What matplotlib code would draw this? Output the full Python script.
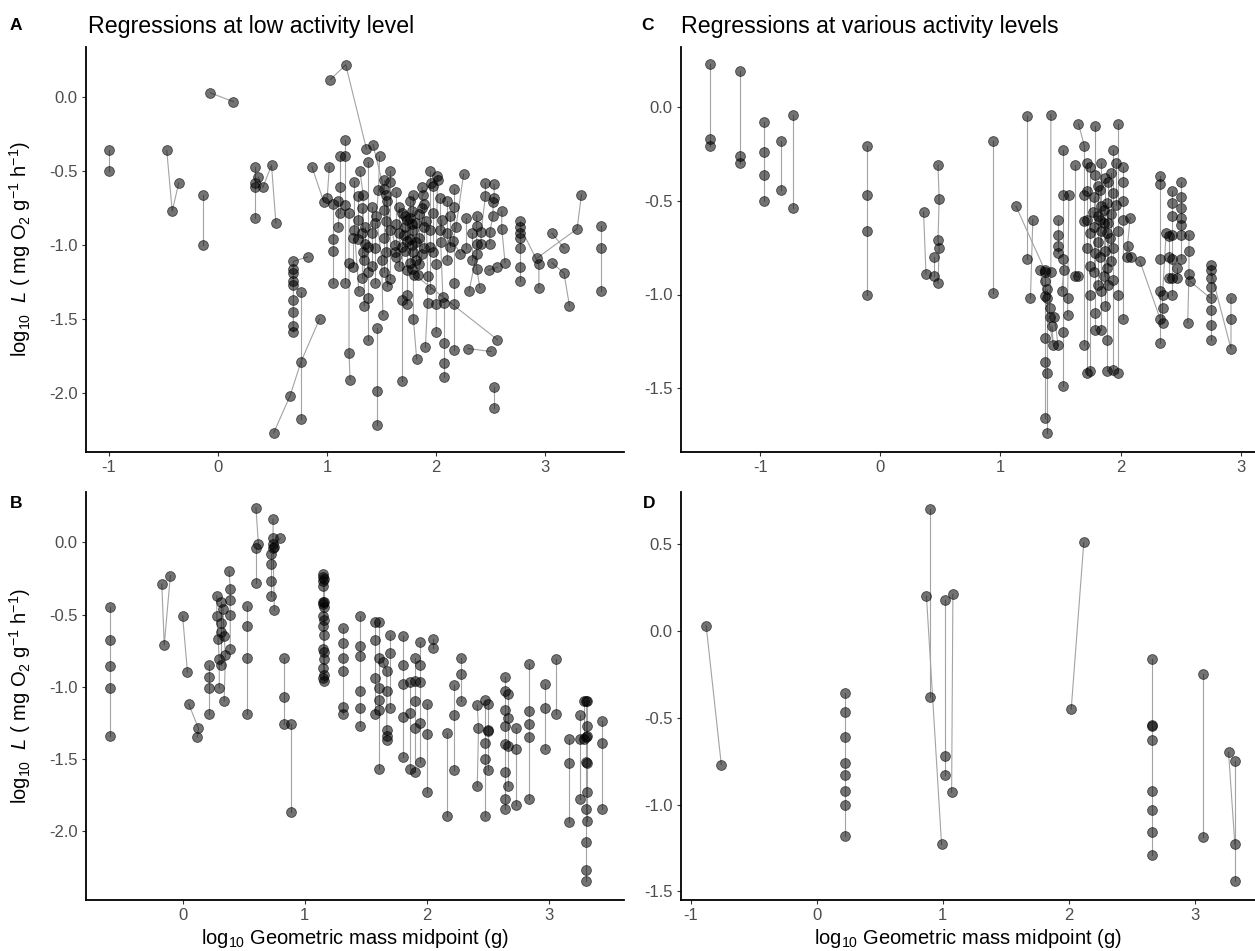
import numpy as np
import matplotlib.pyplot as plt

plt.rcParams['font.family'] = ['Liberation Sans', 'DejaVu Sans']
plt.rcParams['mathtext.fontset'] = 'custom'
plt.rcParams['mathtext.rm'] = 'Liberation Sans'
plt.rcParams['mathtext.it'] = 'Liberation Sans:italic'
plt.rcParams['axes.unicode_minus'] = False

# panel A: regressions at low activity level (one list per regression)
low_mass = [
    [-1.0, -1.0], [-0.47, -0.42, -0.36], [-0.07, 0.14], [-0.14, -0.14],
    [0.34, 0.34, 0.34, 0.34], [0.37, 0.41, 0.49, 0.53],
    [0.82, 0.69, 0.69, 0.69, 0.69, 0.69, 0.69, 0.69, 0.69, 0.69],
    [0.76, 0.76], [0.51, 0.66, 0.76, 0.93], [1.03, 1.17, 1.36], [0.86, 0.97],
    [1.05, 1.05, 1.05, 1.05], [1.00, 1.02], [1.16, 1.16, 1.16, 1.16],
    [1.12, 1.12, 1.12], [1.20, 1.20, 1.20, 1.21], [1.25, 1.25, 1.29],
    [1.30, 1.33, 1.33], [1.37, 1.37, 1.37, 1.37, 1.37], [1.35, 1.35, 1.34, 1.34],
    [1.42, 1.52, 1.62], [1.46, 1.46, 1.46], [1.48, 1.47, 1.45, 1.50, 1.51],
    [1.58, 1.58, 1.58, 1.58], [1.55, 1.55], [1.69, 1.69, 1.69, 1.69],
    [1.73, 1.73, 1.73, 1.73, 1.73], [1.79, 1.79, 1.79, 1.79, 1.82],
    [1.87, 1.87, 1.87, 1.83], [1.94, 1.94, 1.94, 1.94], [1.91, 1.92, 1.92, 1.90],
    [2.01, 2.00, 2.00, 2.00], [2.05, 2.04, 2.06], [2.07, 2.07, 2.07, 2.07],
    [2.16, 2.16, 2.16, 2.16, 2.16], [2.25, 2.18, 2.15, 2.22], [2.29, 2.50],
    [2.30, 2.37, 2.37], [2.45, 2.45, 2.41, 2.41],
    [2.53, 2.53, 2.52, 2.52, 2.49, 2.49], [2.60, 2.60, 2.63],
    [2.37, 2.37, 2.37, 2.40], [2.48, 2.56], [1.80, 2.56], [2.53, 2.53],
    [2.77, 2.77, 2.77, 2.77, 2.77, 2.77], [2.92, 3.29, 3.33], [2.77, 2.94, 2.94],
    [3.06, 3.17], [3.06, 3.17, 3.22], [3.51, 3.51, 3.51],
    [1.10, 1.10], [1.28, 1.28, 1.28], [1.41, 1.41, 1.41], [1.52, 1.52, 1.52, 1.52],
    [1.63, 1.63, 1.63], [1.76, 1.76, 1.76, 1.76], [1.84, 1.84, 1.84],
    [1.97, 1.97, 1.97], [2.10, 2.10, 2.10], [2.27, 2.27], [1.62, 1.70, 1.78],
    [1.88, 1.95, 2.02],
    [1.32, 1.32, 1.32], [1.44, 1.44, 1.44], [1.54, 1.54, 1.54], [1.66, 1.66, 1.66],
    [1.71, 1.71, 1.71], [1.78, 1.78, 1.78], [1.81, 1.81, 1.81], [1.89, 1.89, 1.89],
    [2.03, 2.03], [2.13, 2.13], [2.33, 2.33], [1.24, 1.24],
]
low_L = [
    [-0.36, -0.50], [-0.36, -0.77, -0.58], [0.03, -0.03], [-0.66, -1.00],
    [-0.47, -0.58, -0.61, -0.82], [-0.54, -0.61, -0.46, -0.85],
    [-1.08, -1.11, -1.16, -1.19, -1.24, -1.27, -1.37, -1.45, -1.55, -1.59],
    [-1.32, -2.18], [-2.27, -2.02, -1.79, -1.50], [0.12, 0.22, -0.35], [-0.47, -0.71],
    [-0.72, -0.96, -1.04, -1.26], [-0.68, -0.47], [-0.29, -0.40, -0.73, -1.26],
    [-0.40, -0.61, -0.78], [-0.78, -1.12, -1.73, -1.91], [-0.57, -0.90, -1.31],
    [-0.50, -0.66, -1.05], [-0.44, -1.01, -1.18, -1.36, -1.64], [-0.88, -0.99, -1.10, -1.41],
    [-0.32, -0.62, -1.00], [-1.56, -1.99, -2.22], [-0.40, -0.63, -0.80, -1.10, -1.47],
    [-0.50, -0.57, -0.90, -1.23], [-0.70, -1.28], [-0.78, -1.01, -1.37, -1.92],
    [-0.83, -0.97, -1.17, -1.34, -1.40], [-0.66, -0.90, -1.05, -1.50, -1.77],
    [-0.61, -0.75, -1.06, -1.20], [-0.50, -0.90, -1.01, -1.30], [-0.84, -1.21, -1.39, -1.69],
    [-0.53, -1.13, -1.40, -1.59], [-0.83, -0.98, -1.35], [-1.39, -1.66, -1.80, -1.89],
    [-0.62, -0.74, -1.26, -1.40, -1.71], [-0.52, -0.88, -0.97, -1.06], [-1.70, -1.72],
    [-1.31, -1.06, -0.99], [-0.58, -0.67, -0.91, -0.99],
    [-0.59, -0.68, -0.71, -0.80, -0.91, -0.99], [-0.77, -0.89, -1.12],
    [-0.80, -0.87, -1.16, -1.29], [-1.17, -1.15], [-1.20, -1.64], [-1.96, -2.10],
    [-0.84, -0.92, -0.95, -1.02, -1.15, -1.24], [-1.09, -0.89, -0.66], [-0.88, -1.13, -1.29],
    [-0.92, -1.02], [-1.12, -1.19, -1.41], [-0.87, -1.02, -1.31],
    [-0.70, -0.88], [-0.67, -0.83, -0.96], [-0.74, -0.92, -1.14], [-0.56, -0.76, -0.95, -1.18],
    [-0.64, -0.86, -1.08], [-0.70, -0.82, -0.96, -1.12], [-0.79, -0.95, -1.13],
    [-0.60, -0.78, -1.05], [-0.70, -0.92, -1.10], [-0.82, -1.02], [-1.05, -0.93, -0.86],
    [-0.66, -0.58, -0.56],
    [-0.75, -0.92, -1.22], [-0.85, -1.02, -1.26], [-0.66, -0.84, -1.05], [-0.74, -0.92, -1.14],
    [-0.80, -0.88, -1.04], [-0.77, -1.00, -1.16], [-0.85, -0.98, -1.10], [-0.72, -0.88, -1.02],
    [-0.68, -0.90], [-0.80, -1.01], [-0.92, -1.10], [-0.95, -1.15],
]

# panel B
b_mass = [
    [-0.59, -0.59, -0.59, -0.59, -0.59], [-0.17, -0.15, -0.10], [0.00, 0.04],
    [0.05, 0.13, 0.12], [0.22, 0.22, 0.22, 0.22], [0.28, 0.28, 0.29, 0.30, 0.30],
    [0.31, 0.31, 0.31, 0.31], [0.33, 0.34, 0.35, 0.34], [0.38, 0.39, 0.39, 0.39, 0.39],
    [0.53, 0.53, 0.53, 0.53], [0.60, 0.62], [0.60, 0.60],
    [0.74, 0.74, 0.74, 0.74, 0.75], [0.72, 0.72, 0.72, 0.72], [0.75, 0.80],
    [0.83, 0.83, 0.83], [0.89, 0.89],
    [1.15, 1.15, 1.15, 1.15, 1.15, 1.15, 1.15, 1.15, 1.15, 1.15, 1.15],
    [1.16, 1.16, 1.16, 1.16, 1.16, 1.16, 1.16, 1.16, 1.16],
    [1.31, 1.31, 1.31, 1.31, 1.31, 1.31], [1.45, 1.45, 1.45, 1.45, 1.45, 1.45],
    [1.57, 1.57, 1.57, 1.57], [1.61, 1.61, 1.61, 1.61, 1.61, 1.61],
    [1.64, 1.67, 1.67, 1.67, 1.67, 1.67], [1.70, 1.70, 1.70],
    [1.80, 1.80, 1.80, 1.80, 1.80], [1.86, 1.86, 1.86], [1.90, 1.90, 1.90, 1.90, 1.90],
    [1.94, 1.94, 1.94, 1.94, 1.94], [2.00, 2.00, 2.00], [2.05, 2.05], [2.16, 2.16],
    [2.22, 2.22, 2.22], [2.28, 2.28, 2.28], [2.41, 2.42, 2.41],
    [2.47, 2.47, 2.47, 2.47], [2.50, 2.50, 2.50, 2.50],
    [2.64, 2.64, 2.64, 2.64, 2.64, 2.64, 2.64, 2.64], [2.66, 2.66, 2.66, 2.66],
    [2.73, 2.73, 2.73], [2.83, 2.83, 2.83, 2.83, 2.83], [2.96, 2.96, 2.96],
    [3.05, 3.05], [3.16, 3.16, 3.16], [3.25, 3.25, 3.25],
    [3.30, 3.30, 3.30, 3.30, 3.30, 3.30, 3.30], [3.31, 3.31, 3.31, 3.31, 3.31, 3.31],
    [3.28, 3.28], [3.43, 3.43, 3.43],
]
b_L = [
    [-0.45, -0.68, -0.86, -1.01, -1.34], [-0.29, -0.71, -0.23], [-0.51, -0.90],
    [-1.12, -1.29, -1.35], [-0.85, -0.93, -1.01, -1.19], [-0.37, -0.51, -0.67, -0.81, -1.01],
    [-0.41, -0.56, -0.62, -0.85], [-0.46, -0.65, -0.78, -1.10], [-0.20, -0.32, -0.40, -0.50, -0.74],
    [-0.44, -0.58, -0.80, -1.19], [0.24, -0.01], [-0.04, -0.28],
    [0.16, 0.03, -0.01, -0.04, -0.47], [-0.08, -0.15, -0.27, -0.37], [-0.03, 0.03],
    [-0.80, -1.07, -1.26], [-1.26, -1.87],
    [-0.22, -0.24, -0.27, -0.30, -0.41, -0.43, -0.51, -0.58, -0.74, -0.87, -0.94],
    [-0.25, -0.41, -0.45, -0.54, -0.64, -0.76, -0.81, -0.92, -0.96],
    [-0.59, -0.70, -0.80, -0.89, -1.14, -1.19], [-0.51, -0.72, -0.79, -1.03, -1.15, -1.27],
    [-0.55, -0.68, -0.94, -1.19], [-0.55, -0.80, -1.01, -1.09, -1.16, -1.57],
    [-0.83, -0.89, -1.03, -1.30, -1.34, -1.37], [-0.64, -0.77, -1.15],
    [-0.65, -0.85, -0.98, -1.21, -1.49], [-0.97, -1.18, -1.57], [-0.80, -0.96, -1.10, -1.29, -1.59],
    [-0.69, -0.85, -0.97, -1.25, -1.52], [-1.12, -1.33, -1.73], [-0.67, -0.73], [-1.32, -1.90],
    [-0.99, -1.20, -1.58], [-0.80, -0.91, -1.10], [-1.13, -1.29, -1.69],
    [-1.09, -1.39, -1.50, -1.90], [-1.12, -1.30, -1.31, -1.58],
    [-0.93, -1.03, -1.16, -1.27, -1.40, -1.59, -1.78, -1.85], [-1.05, -1.22, -1.41, -1.69],
    [-1.29, -1.43, -1.82], [-0.84, -1.17, -1.26, -1.35, -1.78], [-0.98, -1.15, -1.43],
    [-0.81, -1.19], [-1.36, -1.53, -1.94], [-1.20, -1.36, -1.78],
    [-1.10, -1.35, -1.52, -1.85, -2.08, -2.27, -2.35], [-1.10, -1.27, -1.34, -1.53, -1.73, -1.93],
    [-1.10, -1.36], [-1.24, -1.39, -1.85],
]

# panel C: regressions at various activity levels
various_mass = [
    [-1.42, -1.42, -1.42], [-1.17, -1.17, -1.17], [-0.97, -0.97, -0.97, -0.97],
    [-0.83, -0.83], [-0.73, -0.73], [-0.11, -0.11, -0.11, -0.11], [0.36, 0.38],
    [0.45, 0.45], [0.48, 0.49, 0.48, 0.49, 0.48], [0.94, 0.94], [1.13, 1.37],
    [1.22, 1.22], [1.27, 1.25], [1.42, 1.42, 1.41, 1.41],
    [1.37, 1.37, 1.37, 1.37, 1.37, 1.37], [1.39, 1.39, 1.39, 1.39], [1.33, 1.44, 1.43],
    [1.48, 1.48, 1.48, 1.48], [1.52, 1.52, 1.52, 1.52, 1.52], [1.57, 1.56, 1.56],
    [1.53, 1.51], [1.62, 1.62, 1.65], [1.65, 1.70, 1.70, 1.70, 1.70],
    [1.72, 1.72, 1.72, 1.72, 1.72], [1.75, 1.75, 1.75, 1.75, 1.75],
    [1.79, 1.79, 1.79, 1.79, 1.79], [1.84, 1.84, 1.84, 1.84, 1.84],
    [1.89, 1.89, 1.89, 1.89, 1.89], [1.94, 1.94, 1.94, 1.94, 1.94],
    [1.98, 1.98, 1.98, 1.98], [2.02, 2.02, 2.02, 2.02, 2.02], [2.06, 2.09],
    [2.08, 2.05], [1.77, 1.86, 1.91], [1.81, 1.81, 1.81, 1.81], [1.87, 1.87, 1.87],
    [1.92, 1.92, 1.92], [1.96, 1.96], [1.45, 1.48], [2.16, 2.33],
    [2.33, 2.33, 2.33, 2.33, 2.33, 2.33], [2.38, 2.35, 2.35, 2.35],
    [2.43, 2.43, 2.43, 2.43, 2.43, 2.43, 2.43], [2.50, 2.50, 2.50, 2.50, 2.50, 2.50, 2.50],
    [2.47, 2.47], [2.57, 2.57, 2.57, 2.56], [2.58, 2.75],
    [2.75, 2.75, 2.75, 2.75, 2.75, 2.75, 2.75, 2.75], [2.75, 2.92, 2.92, 2.92],
    [2.40, 2.40, 2.40],
    [1.78, 1.78, 1.78], [1.83, 1.83, 1.83], [1.86, 1.86], [1.90, 1.90, 1.90],
]
various_L = [
    [0.23, -0.17, -0.21], [0.19, -0.26, -0.30], [-0.08, -0.24, -0.36, -0.50],
    [-0.18, -0.44], [-0.04, -0.54], [-0.21, -0.47, -0.66, -1.00], [-0.56, -0.89],
    [-0.80, -0.90], [-0.31, -0.49, -0.71, -0.75, -0.94], [-0.18, -0.99], [-0.53, -0.87],
    [-0.05, -0.81], [-0.60, -1.02], [-0.04, -0.88, -1.07, -1.12],
    [-0.88, -0.93, -1.01, -1.23, -1.36, -1.66], [-0.97, -1.02, -1.42, -1.74], [-0.87, -1.27, -1.17],
    [-0.60, -0.68, -0.74, -0.78], [-0.23, -0.47, -0.81, -1.20, -1.49], [-0.47, -1.02, -1.11],
    [-0.87, -0.98], [-0.31, -0.90, -0.90], [-0.09, -0.21, -0.47, -0.61, -1.27],
    [-0.30, -0.45, -0.60, -0.75, -1.42], [-0.32, -0.67, -0.85, -1.00, -1.41],
    [-0.10, -0.36, -0.78, -1.10, -1.19], [-0.30, -0.53, -0.66, -0.98, -1.19],
    [-0.51, -0.67, -0.86, -1.24, -1.41], [-0.23, -0.46, -0.75, -0.92, -1.40],
    [-0.09, -0.66, -1.00, -1.42], [-0.32, -0.40, -0.50, -0.60, -1.13], [-0.74, -0.80],
    [-0.59, -0.80], [-0.56, -0.62, -0.70], [-0.42, -0.58, -0.72, -0.95], [-0.38, -0.77, -1.06],
    [-0.35, -0.57, -0.82], [-0.30, -0.52], [-1.12, -1.27], [-0.82, -1.13],
    [-0.37, -0.41, -0.81, -0.98, -1.13, -1.26], [-0.67, -1.00, -1.07, -1.15],
    [-0.45, -0.51, -0.58, -0.68, -0.81, -0.91, -1.00], [-0.40, -0.48, -0.54, -0.59, -0.63, -0.68, -0.81],
    [-0.86, -0.91], [-0.68, -0.77, -0.89, -1.15], [-0.93, -1.02],
    [-0.84, -0.87, -0.91, -0.96, -1.02, -1.08, -1.16, -1.24], [-0.87, -1.29, -1.13, -1.02],
    [-0.69, -0.80, -0.91],
    [-0.48, -0.64, -0.88], [-0.44, -0.60, -0.80], [-0.55, -0.90], [-0.40, -0.62, -0.95],
]

# panel D
d_mass = [
    [-0.88, -0.76], [0.22, 0.22, 0.22, 0.22, 0.22, 0.22, 0.22, 0.22],
    [0.87, 0.99], [0.90, 0.90], [1.02, 1.02, 1.02], [1.08, 1.07], [2.02, 2.12],
    [2.66, 2.66, 2.66, 2.66, 2.66, 2.66, 2.66, 2.66], [3.07, 3.07], [3.27, 3.32],
    [3.32, 3.32, 3.32],
]
d_L = [
    [0.03, -0.77], [-0.36, -0.47, -0.61, -0.76, -0.83, -0.92, -1.00, -1.18],
    [0.20, -1.23], [0.70, -0.38], [0.18, -0.72, -0.83], [0.21, -0.93], [-0.45, 0.51],
    [-0.16, -0.54, -0.545, -0.63, -0.92, -1.03, -1.16, -1.29], [-0.25, -1.19], [-0.70, -1.23],
    [-0.75, -1.23, -1.44],
]

ylab = r'log$_{10}$  $\mathit{L}$ ( mg O$_2$ g$^{-1}$ h$^{-1}$)'
xlab = r'log$_{10}$ Geometric mass midpoint (g)'

W, H = 1255, 951
fig = plt.figure(figsize=(W / 100, H / 100), dpi=100)


def box(l, r, t, b):
    return [l / W, 1 - b / H, (r - l) / W, (b - t) / H]


def panel(rect, xs, ys, xlim, ylim, xticks, yticks):
    ax = fig.add_axes(rect)
    for gx, gy in zip(xs, ys):
        ax.plot(gx, gy, color='#a3a3a3', lw=0.8, zorder=1)
    px = np.concatenate([np.asarray(g) for g in xs])
    py = np.concatenate([np.asarray(g) for g in ys])
    # a point shared by two connected paths is drawn once
    pts = np.unique(np.column_stack([px, py]), axis=0)
    ax.scatter(pts[:, 0], pts[:, 1], s=50, facecolor=(0, 0, 0, 0.55),
               edgecolor=(0, 0, 0, 0.6), linewidth=0.6, zorder=2)
    ax.set_xlim(*xlim)
    ax.set_ylim(*ylim)
    ax.set_xticks(xticks)
    ax.set_xticklabels([str(t) for t in xticks])
    ax.set_yticks(yticks)
    ax.set_yticklabels(['%.1f' % t for t in yticks])
    for s in ['top', 'right']:
        ax.spines[s].set_visible(False)
    for s in ['left', 'bottom']:
        ax.spines[s].set_linewidth(1.3)
    ax.tick_params(length=3, width=0.8, color='#333333', labelcolor='#4d4d4d',
                   labelsize=12, pad=3)
    return ax


ax_a = panel(box(86, 624, 47, 452), low_mass, low_L, (-1.21, 3.72), (-2.40, 0.34),
             [-1, 0, 1, 2, 3], [0.0, -0.5, -1.0, -1.5, -2.0])
ax_c = panel(box(681, 1255, 47, 452), various_mass, various_L, (-1.66, 3.12), (-1.84, 0.32),
             [-1, 0, 1, 2, 3], [0.0, -0.5, -1.0, -1.5])
ax_b = panel(box(86, 624, 492, 900), b_mass, b_L, (-0.79, 3.61), (-2.48, 0.35),
             [0, 1, 2, 3], [0.0, -0.5, -1.0, -1.5, -2.0])
ax_d = panel(box(681, 1255, 492, 900), d_mass, d_L, (-1.08, 3.48), (-1.55, 0.80),
             [-1, 0, 1, 2, 3], [0.5, 0.0, -0.5, -1.0, -1.5])

for ax in [ax_a, ax_b]:
    ax.set_ylabel(ylab, fontsize=14.5)
    ax.yaxis.set_label_coords(-0.099, 0.5)
for ax in [ax_b, ax_d]:
    ax.set_xlabel(xlab, fontsize=14.5)
    ax.xaxis.set_label_coords(0.5, -0.066)

fig.text(88 / W, 1 - 26 / H, 'Regressions at low activity level', fontsize=16.7, va='center')
fig.text(681 / W, 1 - 26 / H, 'Regressions at various activity levels', fontsize=16.7, va='center')
for lab, x, y in [('A', 16, 26), ('C', 647, 26), ('B', 16, 503), ('D', 649, 503)]:
    fig.text(x / W, 1 - y / H, lab, fontsize=12.5, fontweight='bold', va='center', ha='center')

fig.savefig('out.png', dpi=100)
